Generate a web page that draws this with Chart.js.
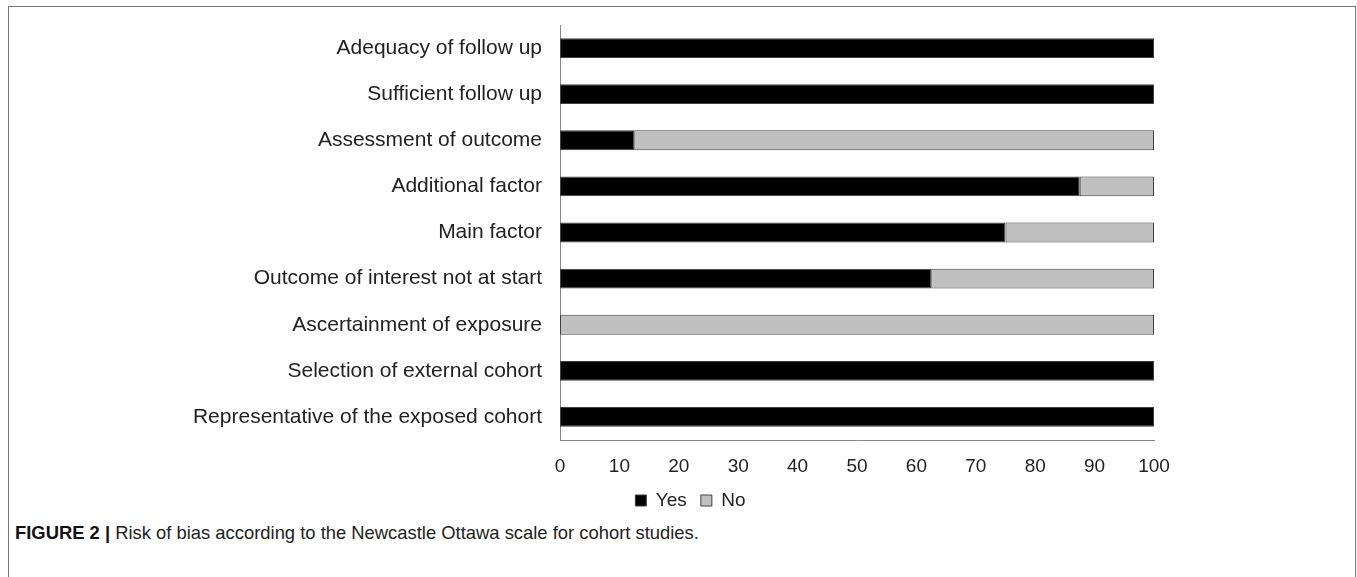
<!DOCTYPE html>
<html lang="en">
<head>
  <meta charset="UTF-8">
  <title>Risk of bias - Newcastle Ottawa scale</title>
  <script src="https://cdn.jsdelivr.net/npm/chart.js"></script>
  <style>
    body { margin: 0; background: #fff; font-family: 'Liberation Sans', Arial, sans-serif; }
    .figure { position: absolute; left: 8px; top: 6px; width: 1346px; height: 600px; border: 1px solid #777; border-bottom: none; }
    .chart-container { position: absolute; left: 0; top: 0; width: 1345px; height: 513px; }
    .caption { position: absolute; left: 6px; top: 515px; font-size: 18.4px; color: #222; white-space: nowrap; }
    .caption b { color: #111; }
  </style>
</head>
<body>
<div class="figure">
  <div class="chart-container"><canvas id="chart"></canvas></div>
  <div class="caption"><b>FIGURE 2 |</b> Risk of bias according to the Newcastle Ottawa scale for cohort studies.</div>
</div>
<script>
  const categories = [
    'Adequacy of follow up',
    'Sufficient follow up',
    'Assessment of outcome',
    'Additional factor',
    'Main factor',
    'Outcome of interest not at start',
    'Ascertainment of exposure',
    'Selection of external cohort',
    'Representative of the exposed cohort'
  ];
  const yes = [100, 100, 12.5, 87.5, 75, 62.5, 0, 100, 100];
  const no = [0, 0, 87.5, 12.5, 25, 37.5, 100, 0, 0];
  const xTicks = [0, 10, 20, 30, 40, 50, 60, 70, 80, 90, 100];

  const font = { family: "'Liberation Sans', Arial, sans-serif" };

  new Chart(document.getElementById('chart'), {
    type: 'bar',
    data: {
      labels: categories,
      datasets: [
        { label: 'Yes', data: yes, backgroundColor: '#000000', borderColor: '#404040', borderWidth: 1,
          borderSkipped: false, barPercentage: 0.43, categoryPercentage: 1 },
        { label: 'No', data: no, backgroundColor: '#c0c0c0', borderColor: '#404040', borderWidth: 1,
          borderSkipped: false, barPercentage: 0.43, categoryPercentage: 1 }
      ]
    },
    options: {
      indexAxis: 'y',
      responsive: true,
      maintainAspectRatio: false,
      animation: false,
      layout: { padding: { top: 18, right: 0, bottom: 0, left: 18 } },
      plugins: {
        legend: {
          position: 'bottom',
          labels: {
            boxWidth: 11, boxHeight: 11, padding: 14, color: '#222',
            font: { ...font, size: 19 }
          }
        },
        tooltip: { enabled: false }
      },
      scales: {
        x: {
          stacked: true,
          min: 0, max: 100,
          afterBuildTicks: (scale) => { scale.ticks = xTicks.map(v => ({ value: v })); },
          afterFit: (scale) => { scale.height = 37; },
          grid: { display: false, drawTicks: false },
          border: { display: true, color: '#888', width: 1 },
          ticks: { padding: 17, color: '#222', font: { ...font, size: 19, lineHeight: 1 } }
        },
        y: {
          stacked: true,
          afterFit: (scale) => { scale.width = 533; scale.paddingTop = 0; scale.paddingBottom = 0; },
          grid: { display: false, drawTicks: false },
          border: { display: true, color: '#888', width: 1 },
          ticks: { padding: 18, color: '#222', font: { ...font, size: 21 } }
        },
        // empty space on the right of the plot, keeps the legend centred on the whole figure
        right: {
          type: 'category',
          position: 'right',
          afterFit: (scale) => { scale.width = 200; scale.paddingTop = 0; scale.paddingBottom = 0; },
          grid: { display: false, drawTicks: false },
          border: { display: false },
          ticks: { display: false }
        }
      }
    }
  });
</script>
</body>
</html>
